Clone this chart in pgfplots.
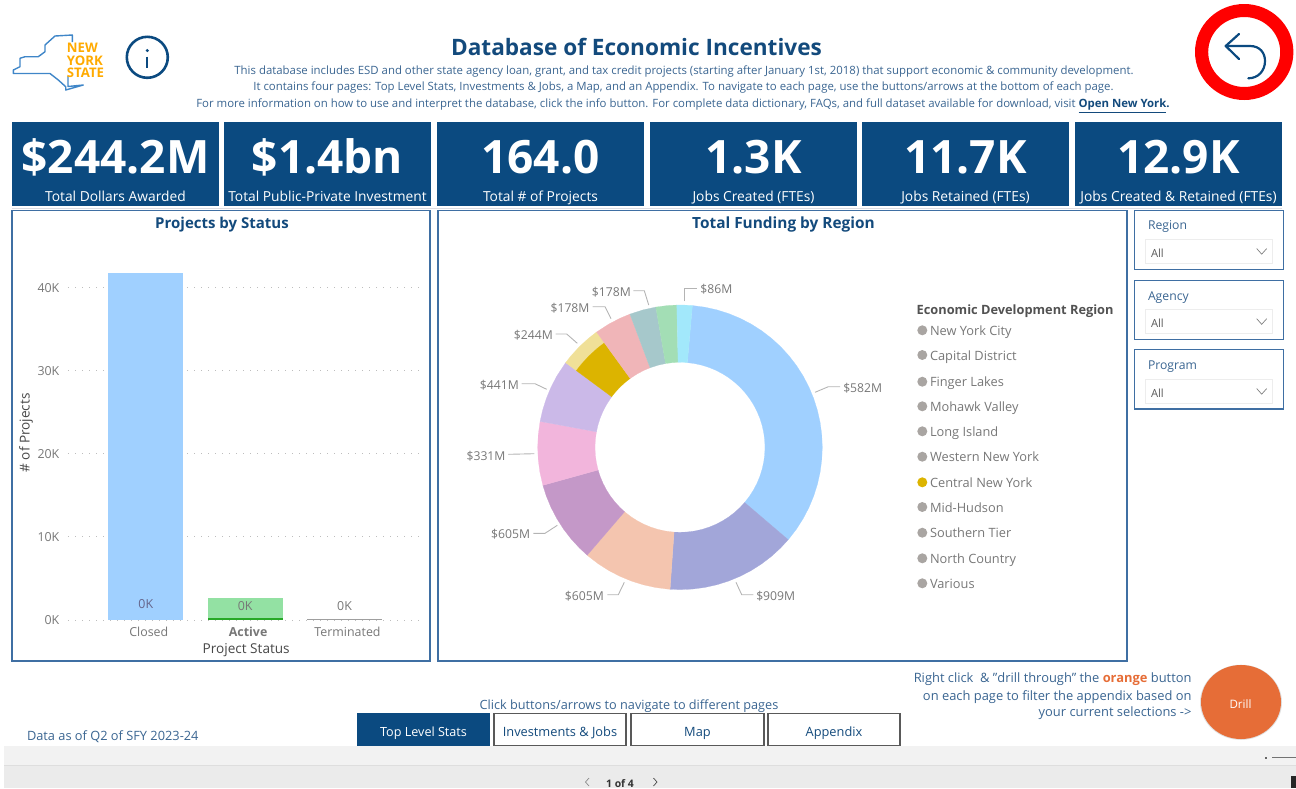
\documentclass[border=0pt]{standalone}
\usepackage{fontspec}
\setmainfont{Open Sans}
\usepackage{pgfplots}
\pgfplotsset{compat=1.18}
\usepgfplotslibrary{polar}

\definecolor{navy}{HTML}{0B4A80}
\definecolor{titleblue}{HTML}{134A7C}
\definecolor{subblue}{HTML}{3A6591}
\definecolor{panel}{HTML}{3F6FA3}
\definecolor{gridgray}{HTML}{BDBDBD}
\definecolor{ticktext}{HTML}{777777}
\definecolor{leader}{HTML}{B4B4B4}
\definecolor{dot}{HTML}{A9A5A2}
\definecolor{gold}{HTML}{DCB400}
\definecolor{ring}{HTML}{FF0000}
\definecolor{drill}{HTML}{E66D37}
\definecolor{nyyellow}{HTML}{FFAA00}
\definecolor{nyblue}{HTML}{3F86C8}
\definecolor{cBlue}{HTML}{A0D0FF}
\definecolor{cPeri}{HTML}{A2A6D9}
\definecolor{cPeach}{HTML}{F4C5AF}
\definecolor{cMauve}{HTML}{C498C8}
\definecolor{cPink}{HTML}{F2B5DC}
\definecolor{cLav}{HTML}{CBB9E8}
\definecolor{cPale}{HTML}{F0E098}
\definecolor{cRose}{HTML}{F0B5B8}
\definecolor{cTeal}{HTML}{A6C8CB}
\definecolor{cGreen}{HTML}{A3DEB5}
\definecolor{cCyan}{HTML}{A2E8FB}

\newcommand\fz[1]{\fontsize{#1}{#1}\selectfont}
\tikzset{t/.style={inner sep=0pt,outer sep=0pt,text height=0.72em,text depth=0.2em}}

\begin{document}
\begin{tikzpicture}[x=0.5pt,y=-0.5pt]
\path[use as bounding box] (0,0) rectangle (1296,788);
\coordinate (canvas) at (0,788);
\coordinate (bars) at (68,620);
\coordinate (donut) at (680,447.3);

% header
\node[t,anchor=center,text=titleblue,font=\fz{11.3}\bfseries] at (636.5,50) {Database of Economic Incentives};
\node[t,anchor=center,text=subblue,font=\fz{5.7}] at (684,69) {This database includes ESD and other state agency loan, grant, and tax credit projects (starting after January 1st, 2018) that support economic \& community development.};
\node[t,anchor=center,text=subblue,font=\fz{5.7}] at (683.5,85.5) {It contains four pages: Top Level Stats, Investments \& Jobs, a Map, and an Appendix. To navigate to each page, use the buttons/arrows at the bottom of each page.};
\node[t,anchor=center,text=subblue,font=\fz{5.7}] at (683,102) {For more information on how to use and interpret the database, click the info button. For complete data dictionary, FAQs, and full dataset available for download, visit \textcolor{titleblue}{\textbf{\underline{Open New York}.}}};

% logo
\draw[line width=0.7pt,color=nyblue,line join=round] (72.3,42)--(72.3,35)--(55,36)--(45,45)--(45,51.7)--(38.3,56.7)--(25,56.7)--(20,58.3)--(20,66.7)--(13.3,70)--(13.3,73.5)--(50,73.5)--(58.3,80)--(65.7,86.7)--(65.7,90)--(83.3,85)--(68,86.5)--(68,76);
\node[anchor=base west,inner sep=0pt,text=nyyellow,font=\fz{6.6}\bfseries] at (66.5,52.5) {NEW};
\node[anchor=base west,inner sep=0pt,text=nyyellow,font=\fz{6.6}\bfseries] at (66.5,65) {YORK};
\node[anchor=base west,inner sep=0pt,text=nyyellow,font=\fz{6.6}\bfseries] at (66.5,77) {STATE};
\draw[navy,line width=1.3pt] (147.3,57.3) circle[radius=20.5];
\fill[navy] (147.3,50.5) circle[radius=1.7];
\draw[navy,line width=1pt] (147.3,56.5)--(147.3,68);

% back button
\fill[ring,even odd rule] (1244.2,52) ellipse[x radius=49.2,y radius=48] (1244.2,52) ellipse[x radius=36,y radius=35];
\draw[navy,line width=1.1pt,line cap=round,line join=round] (1239,34)--(1225.7,46)--(1239,59);
\draw[navy,line width=1.1pt,line cap=round] (1225.7,46)--(1250,46) .. controls (1260,46) and (1265,53) .. (1265,61) .. controls (1265,71) and (1258,78.3) .. (1248.3,78.3);

% KPI tiles
\draw[color=blue!10!gray!25,line width=0.5pt] (12,208.5)--(1282,208.5);
\foreach \xa/\xb/\val/\cap in {12/219/{\$244.2M}/{Total Dollars Awarded},224/431/{\$1.4bn}/{Total Public-Private Investment},437/644/{164.0}/{Total \# of Projects},650/857/{1.3K}/{Jobs Created (FTEs)},862/1069/{11.7K}/{Jobs Retained (FTEs)},1075/1282/{12.9K}/{Jobs Created \& Retained (FTEs)}}{
  \fill[navy] (\xa,122) rectangle (\xb,206);
  \node[anchor=base,inner sep=0pt,text=white,font=\fz{23}\bfseries] at ({(\xa+\xb)/2},173.5) {\val};
  \node[t,anchor=center,text=white,font=\fz{6.9}] at ({(\xa+\xb)/2},196) {\cap};
}

% panels
\draw[panel,line width=0.7pt] (12,210.5) rectangle (430,661);
\draw[panel,line width=0.7pt] (438,210.5) rectangle (1127,661);
\node[t,anchor=center,text=titleblue,font=\fz{7.5}\bfseries] at (222,223) {Projects by Status};
\node[t,anchor=center,text=titleblue,font=\fz{7.7}\bfseries] at (783.5,223) {Total Funding by Region};

% bar chart: grid and labels first, bars over them
\begin{axis}[
    at={(bars)}, anchor=south west,
    scale only axis,
    width=177.5pt, height=177.375pt,
    xmin=-0.783, xmax=2.79,
    ymin=0, ymax=42700,
    axis line style={draw=none},
    xtick={0.03,1.03,2.03},
    xticklabels={Closed,\textbf{Active},Terminated},
    ytick={0,10000,20000,30000,40000},
    yticklabels={0K,10K,20K,30K,40K},
    scaled y ticks=false,
    major tick length=0pt,
    ymajorgrids,
    grid style={dash pattern=on 0.5pt off 3pt,color=gridgray,line width=0.5pt},
    tick label style={font=\fz{6.2},text=ticktext},
    yticklabel style={xshift=-0.8pt},
    xticklabel style={yshift=0.2pt},
    xlabel={Project Status},
    ylabel={\# of Projects},
    label style={font=\fz{6.8},text=black!72},
    xlabel style={at={(axis description cs:0.502,-0.0845)},anchor=center},
    ylabel style={at={(axis description cs:-0.1183,0.5276)},anchor=center},
    clip=false,
]
\end{axis}
\begin{axis}[
    at={(bars)}, anchor=south west,
    scale only axis,
    width=177.5pt, height=177.375pt,
    xmin=-0.783, xmax=2.79,
    ymin=0, ymax=42700,
    axis lines=none,
    clip=false,
]
\addplot[ybar,bar shift=0pt,bar width=37.5pt,fill=cBlue,draw=none] coordinates {(0,41800)};
\addplot[ybar,bar shift=0pt,bar width=37.5pt,fill=cGreen!90!green,draw=none] coordinates {(1,2600)};
\addplot[ybar,bar shift=0pt,bar width=37.5pt,fill=green!60!black!85!white,draw=none] coordinates {(1,190)};
\addplot[ybar,bar shift=0pt,bar width=37.5pt,fill=gray!75,draw=none] coordinates {(2,170)};
\node[font=\fz{6.2},text=ticktext!85!blue,inner sep=0pt] at (axis cs:0,1900) {0K};
\node[font=\fz{6.2},text=ticktext,inner sep=0pt] at (axis cs:1,1650) {0K};
\node[font=\fz{6.2},text=ticktext,inner sep=0pt] at (axis cs:2,1650) {0K};
\end{axis}

% donut: slices as polar outlines, angle then radius
\begin{polaraxis}[
    at={(donut)}, anchor=center,
    scale only axis,
    width=142.3pt, height=142.3pt,
    xmin=0, xmax=360,
    ymin=0, ymax=142.3,
    hide axis,
    clip=false,
]
\addplot[fill=cBlue,draw=cBlue,line width=0.1pt,mark=none] coordinates {
(85,142.3)(80,142.3)(75,142.3)(70,142.3)(65,142.3)(60,142.3)(55,142.3)(50,142.3)(45,142.3)(40,142.3)(35,142.3)(30,142.3)(25,142.3)(20,142.3)(15,142.3)(10,142.3)(5,142.3)(0,142.3)(-5,142.3)(-10,142.3)(-15,142.3)(-20,142.3)(-25,142.3)(-30,142.3)(-35,142.3)(-40,142.3)(-40.5,142.3)
(-40.5,85)(-40,85)(-35,85)(-30,85)(-25,85)(-20,85)(-15,85)(-10,85)(-5,85)(0,85)(5,85)(10,85)(15,85)(20,85)(25,85)(30,85)(35,85)(40,85)(45,85)(50,85)(55,85)(60,85)(65,85)(70,85)(75,85)(80,85)(85,85)
} -- cycle;
\addplot[fill=cPeri,draw=cPeri,line width=0.1pt,mark=none] coordinates {
(-40.5,142.3)(-45,142.3)(-50,142.3)(-55,142.3)(-60,142.3)(-65,142.3)(-70,142.3)(-75,142.3)(-80,142.3)(-85,142.3)(-90,142.3)(-94,142.3)
(-94,85)(-90,85)(-85,85)(-80,85)(-75,85)(-70,85)(-65,85)(-60,85)(-55,85)(-50,85)(-45,85)(-40.5,85)
} -- cycle;
\addplot[fill=cPeach,draw=cPeach,line width=0.1pt,mark=none] coordinates {
(-94,142.3)(-95,142.3)(-100,142.3)(-105,142.3)(-110,142.3)(-115,142.3)(-120,142.3)(-125,142.3)(-130,142.3)(-130.7,142.3)
(-130.7,85)(-130,85)(-125,85)(-120,85)(-115,85)(-110,85)(-105,85)(-100,85)(-95,85)(-94,85)
} -- cycle;
\addplot[fill=cMauve,draw=cMauve,line width=0.1pt,mark=none] coordinates {
(-130.7,142.3)(-135,142.3)(-140,142.3)(-145,142.3)(-150,142.3)(-155,142.3)(-160,142.3)(-164.5,142.3)
(-164.5,85)(-160,85)(-155,85)(-150,85)(-145,85)(-140,85)(-135,85)(-130.7,85)
} -- cycle;
\addplot[fill=cPink,draw=cPink,line width=0.1pt,mark=none] coordinates {
(-164.5,142.3)(-170,142.3)(-175,142.3)(-180,142.3)(-185,142.3)(-190.5,142.3)
(-190.5,85)(-185,85)(-180,85)(-175,85)(-170,85)(-164.5,85)
} -- cycle;
\addplot[fill=cLav,draw=cLav,line width=0.1pt,mark=none] coordinates {
(-190.5,142.3)(-195,142.3)(-200,142.3)(-205,142.3)(-210,142.3)(-216.5,142.3)
(-216.5,85)(-210,85)(-205,85)(-200,85)(-195,85)(-190.5,85)
} -- cycle;
\addplot[fill=cPale,draw=cPale,line width=0.1pt,mark=none] coordinates {
(-216.5,142.3)(-220,142.3)(-225,142.3)(-230,142.3)(-234.1,142.3)
(-234.1,129)(-230,129)(-225,129)(-220,129)(-216.5,129)
} -- cycle;
\addplot[fill=gold,draw=gold,line width=0.1pt,mark=none] coordinates {
(-216.5,129)(-220,129)(-225,129)(-230,129)(-234.1,129)
(-234.1,85)(-230,85)(-225,85)(-220,85)(-216.5,85)
} -- cycle;
\addplot[fill=cRose,draw=cRose,line width=0.1pt,mark=none] coordinates {
(-234.1,142.3)(-240,142.3)(-245,142.3)(-249.4,142.3)
(-249.4,85)(-245,85)(-240,85)(-234.1,85)
} -- cycle;
\addplot[fill=cTeal,draw=cTeal,line width=0.1pt,mark=none] coordinates {
(-249.4,142.3)(-255,142.3)(-260.2,142.3)
(-260.2,85)(-255,85)(-249.4,85)
} -- cycle;
\addplot[fill=cGreen,draw=cGreen,line width=0.1pt,mark=none] coordinates {
(-260.2,142.3)(-265,142.3)(-268.7,142.3)
(-268.7,85)(-265,85)(-260.2,85)
} -- cycle;
\addplot[fill=cCyan,draw=cCyan,line width=0.1pt,mark=none] coordinates {
(-268.7,142.3)(-272,142.3)(-275,142.3)
(-275,85)(-272,85)(-268.7,85)
} -- cycle;
\end{polaraxis}

% donut leaders, in picture pixels
\begin{axis}[
    at={(canvas)}, anchor=south west,
    scale only axis,
    width=648pt, height=394pt,
    xmin=0, xmax=1296, ymin=0, ymax=788,
    y dir=reverse,
    hide axis,
    clip=false,
    leaderline/.style={color=leader,line width=0.45pt,mark=none},
]
\addplot[leaderline] coordinates {(815,392.3)(828.3,386.7)(840,386.7)};
\addplot[leaderline] coordinates {(736,582.3)(741.7,594.7)(753.3,594.7)};
\addplot[leaderline] coordinates {(624.3,582.3)(618.3,594.7)(607.3,594.7)};
\addplot[leaderline] coordinates {(557.3,525.3)(545,533.3)(533.3,533.3)};
\addplot[leaderline] coordinates {(534.3,453.7)(508.3,454.3)};
\addplot[leaderline] coordinates {(546.7,389.3)(535,383.7)(521.7,383.7)};
\addplot[leaderline] coordinates {(577.3,343.3)(566.7,334)(555.7,334)};
\addplot[leaderline] coordinates {(611,318.7)(605,306.7)(592.7,306.7)};
\addplot[leaderline] coordinates {(648.7,305)(644.3,290.7)(633.3,290.7)};
\addplot[leaderline] coordinates {(684.7,301.3)(684.7,288)(697.3,288)};
\end{axis}
\foreach \x/\y/\s in {862.7/387.3/582,775.7/595.3/909,584.3/595.3/605,510.7/533.3/605,486/455/331,499.3/384/441,533.3/334.3/244,570/307/178,611.3/291/178}{
  \node[t,anchor=center,text=ticktext,font=\fz{6.1}] at (\x,\y) {\$\s M};
}
\node[t,anchor=center,text=ticktext,font=\fz{6.1}] at (716.3,288.3) {\$86M};

% legend
\node[t,anchor=west,text=black!68,font=\fz{6.4}\bfseries] at (916.7,309.3) {Economic Development Region};
\foreach \y/\name in {330.3/New York City,355/Capital District,381.7/Finger Lakes,406.3/Mohawk Valley,431.3/Long Island,456.7/Western New York,507/Mid-Hudson,532.7/Southern Tier,558.3/North Country,583.3/Various}{
  \fill[dot] (922.3,\y) circle[radius=5];
  \node[t,anchor=west,text=ticktext,font=\fz{6.4}] at (930,\y) {\name};
}
\fill[gold] (922.3,482.3) circle[radius=5];
\node[t,anchor=west,text=ticktext,font=\fz{6.4}] at (930,482.3) {Central New York};

% slicers
\foreach \ya/\yb/\yt/\yc/\yd/\name in {210.3/269.3/224.7/239/263.7/Region,280.7/339.7/295/309.3/333.7/Agency,349.7/409/364.3/379/403.7/Program}{
  \draw[panel,line width=0.7pt] (1134.5,\ya) rectangle (1283.5,\yb);
  \draw[black!7,line width=0.5pt] (1145,\yc) rectangle (1272.7,\yd);
  \node[t,anchor=west,text=subblue,font=\fz{6.1}] at (1148,\yt) {\name};
  \node[t,anchor=west,text=black!65,font=\fz{5.6}] at (1151,{(\yc+\yd)/2+0.5}) {All};
  \draw[black!50,line width=0.35pt] (1256.7,{(\yc+\yd)/2-2.8})--(1261.7,{(\yc+\yd)/2+2.8})--(1266.7,{(\yc+\yd)/2-2.8});
}

% drill note and button
\node[t,anchor=east,text=subblue,font=\fz{6.45}] at (1191.5,677.5) {Right click\ \ \& "drill through" the \textcolor{drill}{\textbf{orange}} button};
\node[t,anchor=east,text=subblue,font=\fz{6.45}] at (1191.5,695) {on each page to filter the appendix based on};
\node[t,anchor=east,text=subblue,font=\fz{6.45}] at (1191.5,711.5) {your current selections ->};
\fill[black!12] (1241,702.3) ellipse[x radius=41,y radius=37.6];
\fill[drill] (1241,702) ellipse[x radius=40,y radius=37];
\node[t,anchor=center,text=white,font=\fz{5.8}] at (1240.5,703) {Drill};

% bottom strips
\fill[black!5] (4,746) rectangle (1296,766);
\fill[black!8] (4,766) rectangle (1296,788);
\draw[black!13,line width=0.5pt] (4,765.5)--(1296,765.5);
\fill[black!85] (1291,776) rectangle (1296,788);
\fill[black!60] (1265,756.5) rectangle (1267,758.5);
\draw[black!55,line width=0.3pt] (1272,757.5)--(1296,757.5);
\node[t,anchor=center,text=black!80,font=\fz{5.2}\bfseries] at (620,782) {1 of 4};
\draw[black!45,line width=0.35pt] (589,778)--(585.5,782)--(589,786);
\draw[black!70,line width=0.35pt] (653.5,778)--(657,782)--(653.5,786);

% navigation
\node[t,anchor=center,text=subblue,font=\fz{6.35}] at (629,704) {Click buttons/arrows to navigate to different pages};
\node[t,anchor=west,text=subblue,font=\fz{6.4}] at (27,735) {Data as of Q2 of SFY 2023-24};
\fill[navy] (357,713) rectangle (490,746);
\node[t,anchor=center,text=white,font=\fz{6.3}] at (423.5,731) {Top Level Stats};
\foreach \xa/\xb/\name in {494/626/Investments \& Jobs,631/764/Map,768/900/Appendix}{
  \draw[black!65,line width=0.6pt,fill=white] (\xa,713.5) rectangle (\xb,745.5);
  \node[t,anchor=center,text=titleblue,font=\fz{6.4}] at ({(\xa+\xb)/2},731) {\name};
}
\end{tikzpicture}
\end{document}
